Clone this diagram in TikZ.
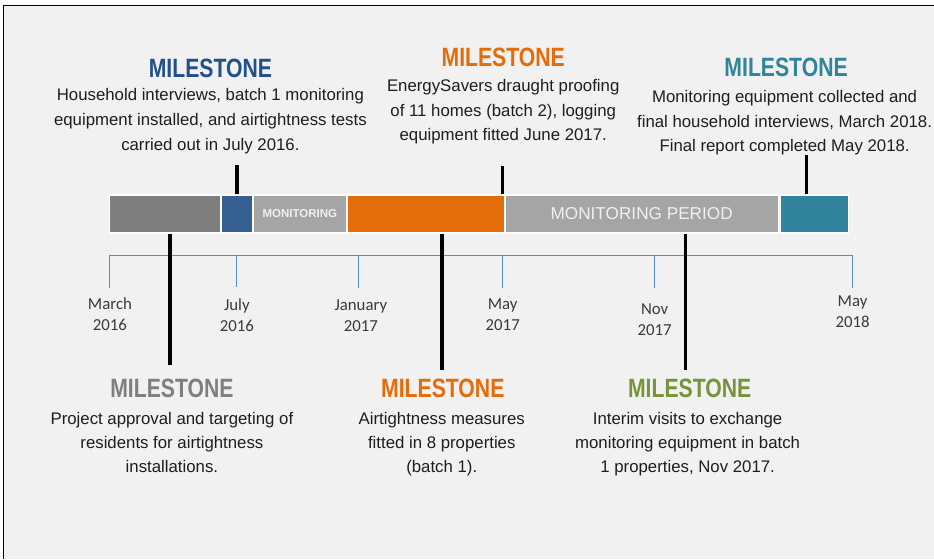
\documentclass[tikz,border=0pt]{standalone}
\usepackage{fontspec}
\setmainfont{Liberation Sans}
\newfontfamily\titlefont[FakeStretch=0.8]{Liberation Sans}
\newfontfamily\monthfont{Carlito}
\definecolor{bg}{HTML}{F1F1F1}
\definecolor{msblue}{HTML}{24508A}
\definecolor{barblue}{HTML}{366092}
\definecolor{msorange}{HTML}{E46C0A}
\definecolor{msteal}{HTML}{31849B}
\definecolor{msgray}{HTML}{7F7F7F}
\definecolor{barlight}{HTML}{A5A5A5}
\definecolor{msgreen}{HTML}{77933C}
\definecolor{tickblue}{HTML}{5A8AC6}
\definecolor{txt}{HTML}{1E1E1E}
\definecolor{monthtxt}{HTML}{3A3A3A}
\definecolor{bartxt}{HTML}{F0F0F0}
\newcommand{\bodytext}[2]{{\fontsize{16.8}{#1}\selectfont\setlength{\tabcolsep}{0pt}\begin{tabular}[t]{c}#2\end{tabular}}}
\newcommand{\monthtext}[1]{{\monthfont\fontsize{16.8}{21}\selectfont\setlength{\tabcolsep}{0pt}\begin{tabular}[t]{c}#1\end{tabular}}}
\begin{document}
\begin{tikzpicture}[x=1pt,y=-1pt,
  bar/.style={draw=white, line width=1.6pt, minimum height=38pt, inner sep=0pt},
  mtitle/.style={anchor=base, inner sep=0pt, font=\titlefont\bfseries\fontsize{26.5}{30}\selectfont},
  mbody/.style={anchor=base, inner sep=0pt, text=txt},
  month/.style={anchor=base, inner sep=0pt, text=monthtxt},
  msline/.style={line width=3.5pt, black},
  tline/.style={line width=1pt, tickblue}]
\fill[white] (0,0) rectangle (934,559);
\fill[bg] (4,6) rectangle (934,559);
\draw[black, line width=1pt] (4,559) -- (4,6) -- (934,6);
\useasboundingbox (0,0) rectangle (934,559);

% timeline
\coordinate (t1) at (110,256);
\coordinate (t2) at (237,256);
\coordinate (t3) at (359,256);
\coordinate (t4) at (503,256);
\coordinate (t5) at (655,256);
\coordinate (t6) at (853,256);
\coordinate (t1b) at (110,288);
\coordinate (t2b) at (237,287);
\coordinate (t3b) at (359,288);
\coordinate (t4b) at (503,288);
\coordinate (t5b) at (655,288);
\coordinate (t6b) at (853,288);
\draw[tline] (t1b) -- (t1) -- (t6) -- (t6b);
\draw[tline] (t2) -- (t2b);
\draw[tline] (t3) -- (t3b);
\draw[tline] (t4) -- (t4b);
\draw[tline] (t5) -- (t5b);

% months
\node[month] (mo1) at (110,309.5) {\monthtext{March\\2016}};
\node[month] (mo2) at (237,311) {\monthtext{July\\2016}};
\node[month] (mo3) at (361,311) {\monthtext{January\\2017}};
\node[month] (mo4) at (503,310) {\monthtext{May\\2017}};
\node[month] (mo5) at (655,315) {\monthtext{Nov\\2017}};
\node[month] (mo6) at (853,307) {\monthtext{May\\2018}};

% bars
\node[bar, fill=msgray, minimum width=111pt] (b1) at (165,214) {};
\node[bar, fill=barblue, minimum width=32pt] (b2) at (237,214) {};
\node[bar, fill=barlight, minimum width=94pt, text=bartxt, font=\bfseries\fontsize{11.5}{13}\selectfont] (b3) at (300,214) {MONITORING};
\node[bar, fill=msorange, minimum width=158pt] (b4) at (426,214) {};
\node[bar, fill=barlight, minimum width=274pt, text=bartxt, font=\fontsize{17.2}{20}\selectfont] (b5) at (642,214) {MONITORING PERIOD};
\node[bar, fill=msteal, minimum width=68pt] (b6) at (815,214) {};

% milestone lines
\coordinate (m1) at (237,165);
\coordinate (m2) at (503,166);
\coordinate (m3) at (807,155);
\coordinate (m4) at (170,365);
\coordinate (m5) at (442,370);
\coordinate (m6) at (686,370);
\draw[msline] (b2.north) -- (m1);
\draw[msline] (m2 |- b4.north) -- (m2);
\draw[msline] (m3 |- b6.north) -- (m3);
\draw[msline] (m4 |- b1.south) -- (m4);
\draw[msline] (m5 |- b4.south) -- (m5);
\draw[msline] (m6 |- b5.south) -- (m6);

% milestone titles
\node[mtitle, text=msblue] (h1) at (210.5,77.5) {MILESTONE};
\node[mtitle, text=msorange] (h2) at (503.5,67) {MILESTONE};
\node[mtitle, text=msteal] (h3) at (786.5,76.5) {MILESTONE};
\node[mtitle, text=msgray] (h4) at (172,398) {MILESTONE};
\node[mtitle, text=msorange] (h5) at (443,398) {MILESTONE};
\node[mtitle, text=msgreen] (h6) at (690,398) {MILESTONE};

% milestone texts
\node[mbody] (d1) at (210.5,101) {\bodytext{25}{Household interviews, batch 1 monitoring\\equipment installed, and airtightness tests\\carried out in July 2016.}};
\node[mbody] (d2) at (503.5,91.7) {\bodytext{24.5}{EnergySavers draught proofing\\of 11 homes (batch 2), logging\\equipment fitted June 2017.}};
\node[mbody] (d3) at (785,102.7) {\bodytext{24.5}{Monitoring equipment collected and\\final household interviews, March 2018.\\Final report completed May 2018.}};
\node[mbody] (d4) at (172,425) {\bodytext{24}{Project approval and targeting of\\residents for airtightness\\installations.}};
\node[mbody] (d5) at (442,425) {\bodytext{24}{Airtightness measures\\fitted in 8 properties\\(batch 1).}};
\node[mbody] (d6) at (688,425) {\bodytext{24}{Interim visits to exchange\\monitoring equipment in batch\\1 properties, Nov 2017.}};
\end{tikzpicture}
\end{document}
